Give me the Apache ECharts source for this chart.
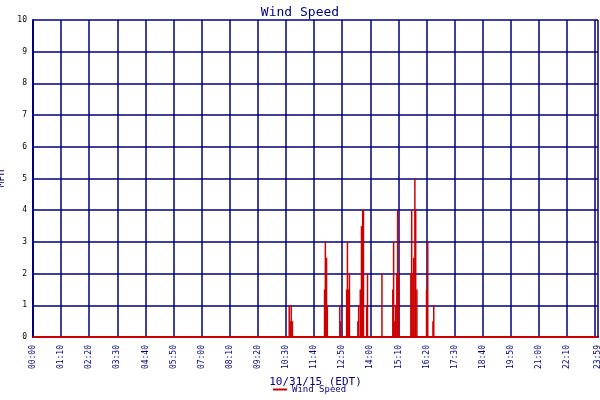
<!DOCTYPE html>
<html><head><meta charset="utf-8">
<script src="https://cdn.jsdelivr.net/npm/echarts@6/dist/echarts.min.js"></script>
<style>html,body{margin:0;background:#fff}#c{width:600px;height:400px}</style>
</head><body><div id="c"></div>
<script>
// minutes after midnight and wind speed (MPH)
const minutes = [638,641,643,646, 726,728,731,733, 764,766, 781,783,786,788, 809,811,815,818,821,823, 831,833, 869, 896,898,901,903,906,908,911, 941,943,946,948,951,953,956, 980,983, 996,998];
const speeds  = [1,0.5,1,0.5, 1.5,3,2.5,1, 1,0.5, 1.5,3,1.5,2, 0.5,1,1.5,3.5,4,4, 1,2, 2, 1.5,3,0.5,1,2,4,2, 2,4,2,2.5,5,4,1.5, 1.5,3, 0.5,1];
const yTicks = [0,1,2,3,4,5,6,7,8,9,10];
const fmt = m => String(Math.floor(m/60)).padStart(2,'0')+':'+String(m%60).padStart(2,'0');
const navy = '#000080';
const chart = echarts.init(document.getElementById('c'));
chart.setOption({
  animation:false,
  title:{text:'Wind Speed',left:'center',top:1,textStyle:{fontFamily:'DejaVu Sans Mono',fontSize:13,fontWeight:'normal',color:navy}},
  legend:{bottom:1,left:268,itemWidth:14,itemHeight:2,icon:'rect',textStyle:{fontFamily:'DejaVu Sans Mono',fontSize:9,color:navy},data:['Wind Speed']},
  grid:{left:33,right:2,top:20,bottom:63,containLabel:false,outerBoundsMode:'none'},
  xAxis:{type:'value',min:0,max:1407,interval:70,
    name:'10/31/15 (EDT)',nameLocation:'middle',nameGap:40,nameTextStyle:{fontFamily:'DejaVu Sans Mono',fontSize:11,color:navy},
    axisLine:{lineStyle:{color:navy,width:2}},axisTick:{show:false},
    splitLine:{show:true,lineStyle:{color:navy,width:1.5}},
    axisLabel:{rotate:90,fontFamily:'DejaVu Sans Mono',fontSize:8,color:navy,showMaxLabel:true,
      formatter:v=> v>=1407?'23:59':fmt(v)}},
  yAxis:{type:'value',min:0,max:10,interval:1,name:'MPH',nameLocation:'middle',nameGap:22,
    nameTextStyle:{fontFamily:'DejaVu Sans Mono',fontSize:10,color:navy},
    axisLine:{show:true,lineStyle:{color:navy,width:2}},axisTick:{show:false},
    splitLine:{lineStyle:{color:navy,width:1.5}},
    axisLabel:{fontFamily:'DejaVu Sans Mono',fontSize:8,color:'#000',margin:6,formatter:v=>yTicks.includes(v)?String(v):''}},
  series:[{name:'Wind Speed',type:'bar',barWidth:1.5,itemStyle:{color:'#cc0000'},
    data:minutes.map((m,i)=>[m,speeds[i]]),
    markLine:{silent:true,symbol:'none',label:{show:false},lineStyle:{color:'#cc0000',width:2,type:'solid'},data:[{yAxis:0}]}}]
});
</script></body></html>
